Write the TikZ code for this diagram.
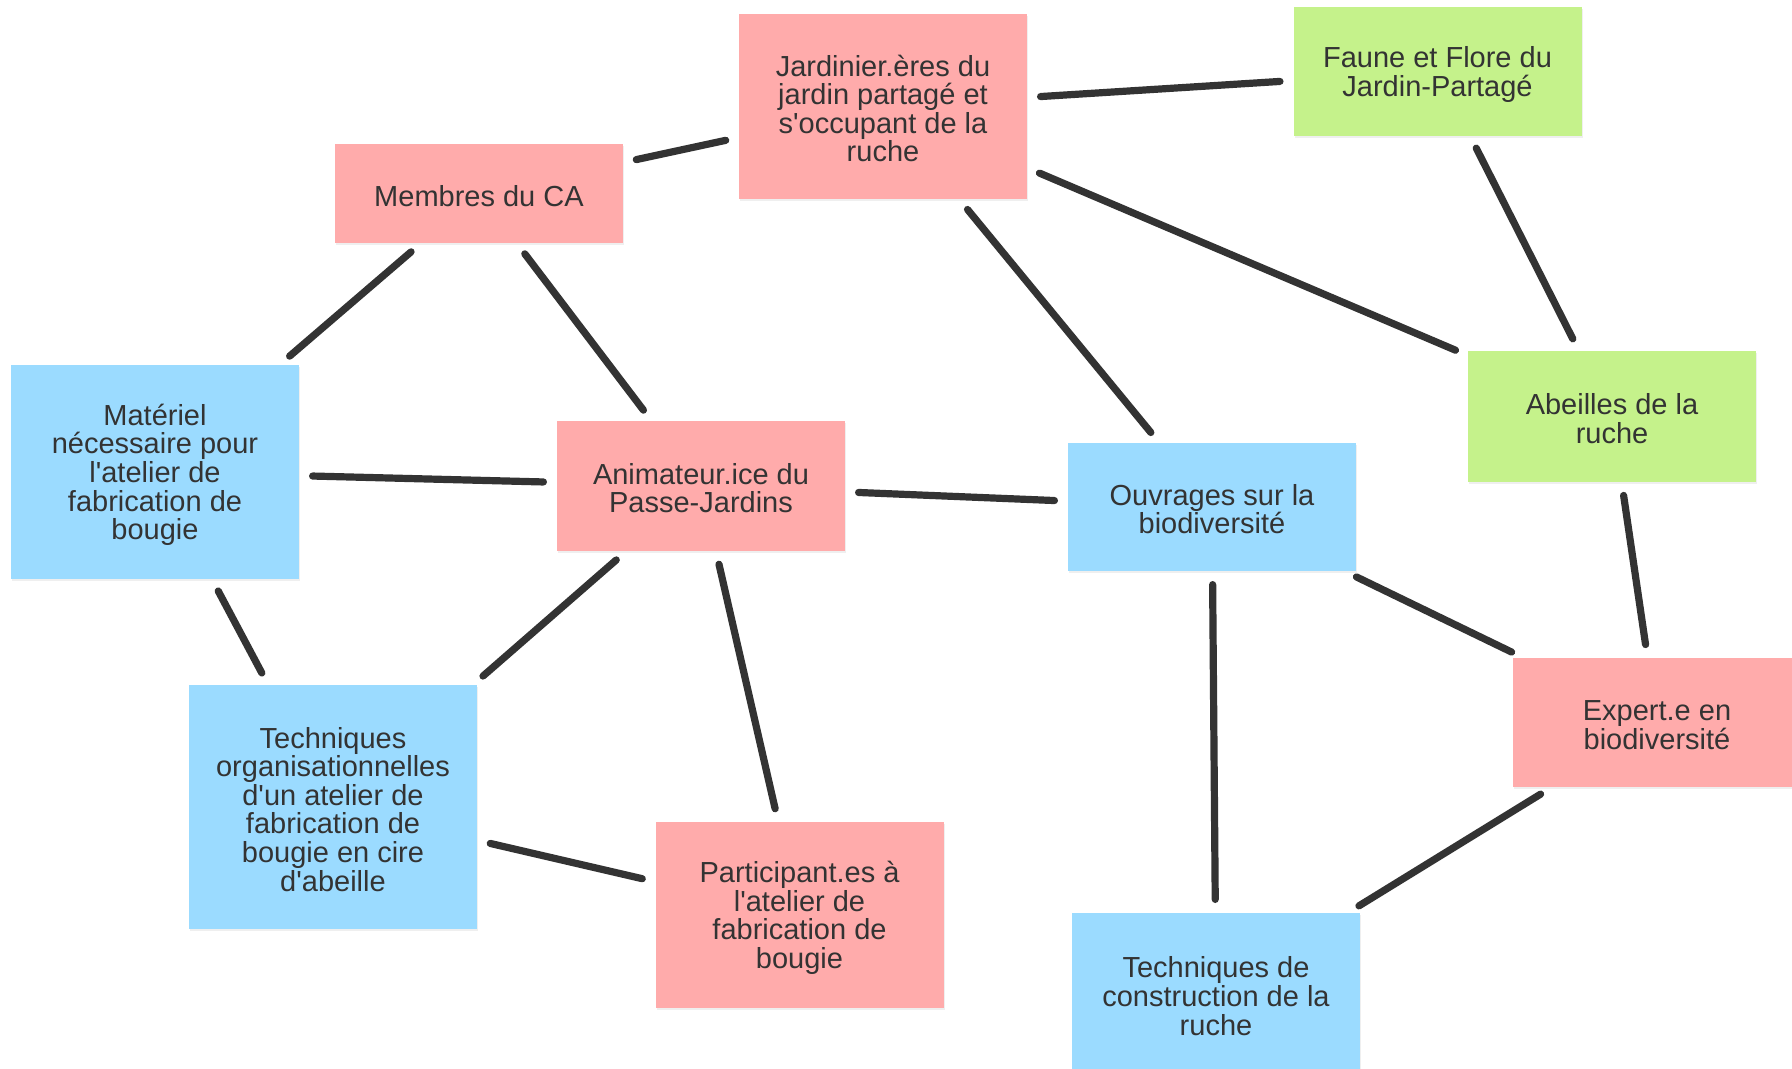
\documentclass[tikz,border=0pt]{standalone}
\usepackage{fontspec}
\setmainfont[Ligatures=TeXOff]{Liberation Sans}
\usetikzlibrary{shadows}
\definecolor{pinkbox}{HTML}{FFABAB}
\definecolor{greenbox}{HTML}{C5F28B}
\definecolor{bluebox}{HTML}{9BDBFF}
\definecolor{textgray}{HTML}{333333}
\definecolor{linegray}{HTML}{333333}
\newcommand{\topstrut}{\rule{0pt}{0.94\baselineskip}}
\newcommand{\botstrut}{\rule[-0.06\baselineskip]{0pt}{0.06\baselineskip}}
\newcommand{\lbl}[1]{\topstrut#1\botstrut}
\newcommand{\cardfont}{\fontsize{14.5}{14.3}\selectfont}
\begin{document}
\begin{tikzpicture}[x=0.5pt,y=-0.5pt,
  card/.style={rectangle, minimum width=144pt, inner sep=0pt, outer sep=0pt, align=center,
    text=textgray, font=\cardfont,
    drop shadow={opacity=0.12, shadow xshift=0.6pt, shadow yshift=-0.8pt}},
  pinkcard/.style={card, fill=pinkbox},
  greencard/.style={card, fill=greenbox},
  bluecard/.style={card, fill=bluebox},
  conn/.style={draw=linegray, line width=3.6pt, line cap=round, shorten >=6.8pt, shorten <=6.8pt}]
\useasboundingbox (0,0) rectangle (1792,1069);
\clip (0,0) rectangle (1792,1069);
\fill[white] (0,0) rectangle (1792,1069);

\node[pinkcard, minimum height=92.5pt] (jard) at (883,106.5) {\lbl{Jardinier.ères du\\jardin partagé et\\s'occupant de la\\ruche}};
\node[greencard, minimum height=64.5pt] (faune) at (1437.5,71.5) {\lbl{Faune et Flore du\\Jardin-Partagé}};
\node[pinkcard, minimum height=49.5pt] (ca) at (479,193.5) {\lbl{Membres du CA}};
\node[greencard, minimum height=65.5pt] (abeilles) at (1612,416.5) {\lbl{Abeilles de la\\ruche}};
\node[bluecard, minimum height=107pt] (materiel) at (155,472) {\lbl{Matériel\\nécessaire pour\\l'atelier de\\fabrication de\\bougie}};
\node[pinkcard, minimum height=65pt] (anim) at (701,486) {\lbl{Animateur.ice du\\Passe-Jardins}};
\node[bluecard, minimum height=64pt] (ouvr) at (1212,507) {\lbl{Ouvrages sur la\\biodiversité}};
\node[pinkcard, minimum height=64.5pt] (expert) at (1657,722.5) {\lbl{Expert.e en\\biodiversité}};
\node[bluecard, minimum height=122pt] (techorg) at (333,807) {\lbl{Techniques\\organisationnelles\\d'un atelier de\\fabrication de\\bougie en cire\\d'abeille}};
\node[pinkcard, minimum height=93pt] (part) at (799.5,915) {\lbl{Participant.es à\\l'atelier de\\fabrication de\\bougie}};
\node[bluecard, minimum height=81pt] (constr) at (1216,994) {\lbl{Techniques de\\construction de la\\ruche}};

\draw[conn] (ca) -- (jard);
\draw[conn] (jard) -- (faune);
\draw[conn] (jard) -- (abeilles);
\draw[conn] (jard) -- (ouvr);
\draw[conn] (faune) -- (abeilles);
\draw[conn] (abeilles) -- (expert);
\draw[conn] (ouvr) -- (expert);
\draw[conn] (expert) -- (constr);
\draw[conn] (ouvr) -- (constr);
\draw[conn] (anim) -- (ouvr);
\draw[conn] (ca) -- (materiel);
\draw[conn] (ca) -- (anim);
\draw[conn] (materiel) -- (anim);
\draw[conn] (materiel) -- (techorg);
\draw[conn] (anim) -- (techorg);
\draw[conn] (anim) -- (part);
\draw[conn] (techorg) -- (part);
\end{tikzpicture}
\end{document}
